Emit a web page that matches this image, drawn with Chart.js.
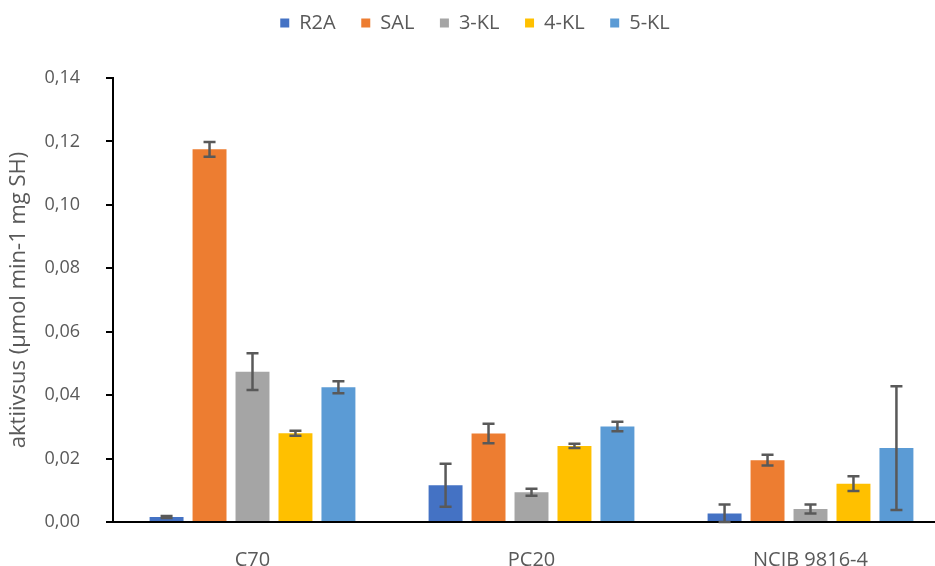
<!DOCTYPE html>
<html>
<head>
<meta charset="utf-8">
<script src="https://cdn.jsdelivr.net/npm/chart.js@4"></script>
<style>
  html, body { margin: 0; padding: 0; background: #fff; overflow: hidden; }
  .wrap { width: 935px; height: 566px; overflow: hidden; }
</style>
</head>
<body>
<div class="wrap"><canvas id="chart" width="950" height="566"></canvas></div>
<script>
const categories = ["C70", "PC20", "NCIB 9816-4"];
const seriesNames = ["R2A", "SAL", "3-KL", "4-KL", "5-KL"];
const seriesColors = ["#4472C4", "#ED7D31", "#A5A5A5", "#FFC000", "#5B9BD5"];

// mean activity per series, one value per category
const r2a = [0.0016, 0.0116, 0.0027];
const sal = [0.1175, 0.0279, 0.0195];
const kl3 = [0.0474, 0.0094, 0.0041];
const kl4 = [0.0280, 0.0240, 0.0121];
const kl5 = [0.0425, 0.0301, 0.0233];

// standard deviation for the error bars
const r2aErr = [0.0003, 0.0068, 0.0028];
const salErr = [0.0023, 0.0031, 0.0017];
const kl3Err = [0.0058, 0.0011, 0.0014];
const kl4Err = [0.0008, 0.0007, 0.0023];
const kl5Err = [0.0019, 0.0015, 0.0195];

const yTicks = [0, 0.02, 0.04, 0.06, 0.08, 0.10, 0.12, 0.14];

const values = [r2a, sal, kl3, kl4, kl5];
const errors = [r2aErr, salErr, kl3Err, kl4Err, kl5Err];

const errorBars = {
  id: "errorBars",
  afterDatasetsDraw(chart) {
    const ctx = chart.ctx;
    const y = chart.scales.y;
    ctx.save();
    ctx.strokeStyle = "#595959";
    ctx.lineWidth = 2.5;
    chart.data.datasets.forEach((ds, i) => {
      const meta = chart.getDatasetMeta(i);
      meta.data.forEach((bar, j) => {
        const v = ds.data[j], e = ds.errors[j];
        const top = y.getPixelForValue(v + e);
        const bot = y.getPixelForValue(Math.max(v - e, 0));
        const cap = 6;
        ctx.beginPath();
        ctx.moveTo(bar.x, top); ctx.lineTo(bar.x, bot);
        ctx.moveTo(bar.x - cap, top); ctx.lineTo(bar.x + cap, top);
        ctx.moveTo(bar.x - cap, bot); ctx.lineTo(bar.x + cap, bot);
        ctx.stroke();
      });
    });
    ctx.restore();
  }
};

// fixed legend band so the plot starts lower on the page
const legendBand = {
  id: "legendBand",
  afterInit(chart) {
    const lg = chart.legend;
    const fit = lg.fit.bind(lg);
    lg.fit = function () { fit(); this.height = 75; };
  }
};

const font = "Open Sans, Liberation Sans, sans-serif";

new Chart(document.getElementById("chart"), {
  type: "bar",
  data: {
    labels: categories,
    datasets: seriesNames.map((name, i) => ({
      label: name,
      data: values[i],
      errors: errors[i],
      backgroundColor: seriesColors[i],
      categoryPercentage: 0.77,
      barPercentage: 0.79,
    })),
  },
  options: {
    responsive: false,
    animation: false,
    layout: { padding: { left: 0, right: 0, top: 3, bottom: 0 } },
    plugins: {
      legend: {
        position: "top",
        labels: {
          boxWidth: 9,
          boxHeight: 9,
          padding: 10,
          color: "#595959",
          font: { family: font, size: 20 },
          // wider gaps between entries without extra vertical padding
          generateLabels(chart) {
            const items = Chart.defaults.plugins.legend.labels.generateLabels(chart);
            items.forEach((it, i) => { if (i < items.length - 1) it.text = it.text + "   "; });
            return items;
          },
        },
      },
      tooltip: { enabled: false },
    },
    scales: {
      x: {
        afterFit(axis) { axis.height = 44; },
        grid: { display: false },
        border: { display: true, color: "#000", width: 2 },
        ticks: { color: "#595959", font: { family: font, size: 20 }, padding: 18 },
      },
      y: {
        min: 0,
        max: 0.14,
        afterFit(axis) { axis.width = 113; },
        afterBuildTicks(axis) { axis.ticks = yTicks.map(v => ({ value: v })); },
        grid: { drawOnChartArea: false, color: "#000", lineWidth: 2, tickLength: 7 },
        border: { display: true, color: "#000", width: 2 },
        ticks: {
          color: "#595959",
          font: { family: font, size: 18 },
          padding: 26,
          callback: v => v.toFixed(2).replace(".", ","),
        },
        title: {
          display: true,
          text: "aktiivsus (µmol min-1 mg SH)",
          color: "#595959",
          font: { family: font, size: 22 },
          padding: { top: 6, bottom: 4 },
        },
      },
    },
  },
  plugins: [errorBars, legendBand],
});
</script>
</body>
</html>
